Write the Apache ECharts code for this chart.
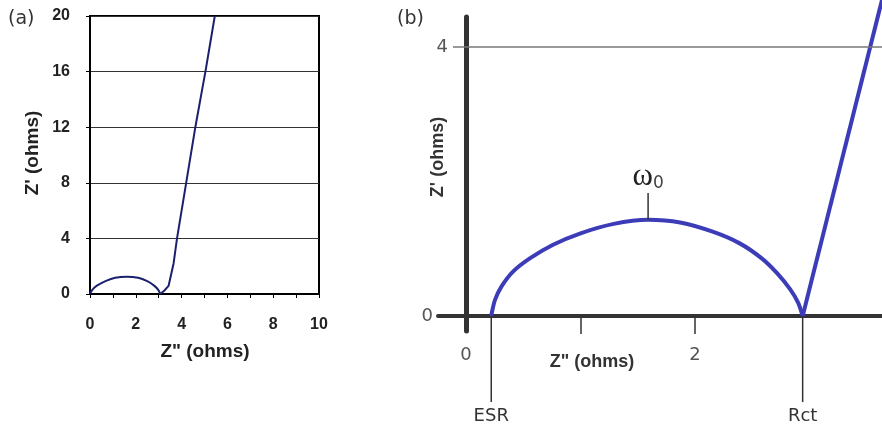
<!DOCTYPE html>
<html>
<head>
<meta charset="utf-8">
<script src="https://cdn.jsdelivr.net/npm/echarts@6/dist/echarts.min.js"></script>
<style>
html, body { margin: 0; padding: 0; background: #fff; }
#chart { width: 882px; height: 428px; }
</style>
</head>
<body>
<div id="chart"></div>
<script>
// panel (a) - full plot, semicircle then steep tail
const arcAX = [0, 0.1, 0.3, 0.7, 1.1, 1.6, 2.1, 2.5, 2.8, 2.98, 3.07];
const arcAY = [0, 0.3, 0.6, 0.95, 1.17, 1.25, 1.17, 0.92, 0.6, 0.3, 0];
const tailAX = [3.07, 3.25, 3.43, 3.65, 3.8, 4.2, 4.6, 4.82, 5.04, 5.45];
const tailAY = [0, 0.25, 0.58, 2.2, 4, 8, 12, 14, 16, 20];

// panel (b) - zoomed sketch
const arcBX = [0.22, 0.224, 0.253, 0.31, 0.41, 0.56, 0.76, 1.0, 1.29, 1.59, 1.87, 2.16, 2.39, 2.58, 2.72, 2.83, 2.9, 2.94];
const arcBY = [0, 0.04, 0.24, 0.44, 0.66, 0.86, 1.06, 1.23, 1.37, 1.43, 1.39, 1.25, 1.08, 0.86, 0.63, 0.4, 0.2, 0];
const tailBX = [2.94, 3.633];
const tailBY = [0, 4.7];
const esrX = 0.22;
const rctX = 2.94;
const omegaX = 1.59;
const omegaY = [1.43, 1.83];
const markerDrop = -1.28;
const xLabelsB = [0, 2];
const xTicksB = [1, 2];
const yLabelsB = [0, 4];

const zip = (xs, ys) => xs.map((x, i) => [x, ys[i]]);

const chart = echarts.init(document.getElementById('chart'), null, { renderer: 'canvas' });

const boldA = { fontFamily: 'Liberation Sans, Arial', fontWeight: 'bold', color: '#222' };
const plainB = { fontFamily: 'DejaVu Sans', fontSize: 18, color: '#555' };

let option = {
    animation: false,
    grid: [
        { left: 90, top: 16, width: 229, height: 278, show: true, borderColor: '#000', borderWidth: 2 },
        { left: 438, top: 17, right: 0, bottom: 97 }
    ],
    xAxis: [{
        gridIndex: 0,
        type: 'value',
        min: 0, max: 10, interval: 1,
        axisLine: { lineStyle: { color: '#000', width: 2 } },
        axisTick: { length: 4, lineStyle: { color: '#000' } },
        axisLabel: Object.assign({ fontSize: 16, margin: 23, formatter: v => v % 2 === 0 ? v : '' }, boldA),
        splitLine: { show: false }
    }, {
        gridIndex: 1,
        type: 'value',
        min: -0.245, max: 3.633,
        axisLine: { onZero: true, lineStyle: { color: '#333', width: 4 } },
        axisTick: { customValues: xTicksB, length: 18, lineStyle: { color: '#333', width: 1.5 } },
        axisLabel: Object.assign({ customValues: xLabelsB, margin: 15 }, plainB),
        splitLine: { show: false }
    }],
    yAxis: [{
        gridIndex: 0,
        type: 'value',
        min: 0, max: 20, interval: 4,
        axisLine: { show: true, lineStyle: { color: '#000', width: 2 } },
        axisTick: { show: true, length: 4, lineStyle: { color: '#000' } },
        axisLabel: Object.assign({ fontSize: 16, margin: 20 }, boldA),
        splitLine: { lineStyle: { color: '#333', width: 1 } }
    }, {
        gridIndex: 1,
        type: 'value',
        min: -0.223, max: 4.446,
        axisLine: { show: true, onZero: true, lineStyle: { color: '#333', width: 5 } },
        axisTick: { show: false },
        axisLabel: {
            customValues: yLabelsB,
            margin: -10,
            formatter: v => v === 0 ? '{z|0}' : '{n|' + v + '}',
            rich: {
                z: Object.assign({ padding: [0, 15, 0, 0] }, plainB),
                n: Object.assign({}, plainB)
            }
        },
        splitLine: { show: false }
    }],
    series: [{
        type: 'line', xAxisIndex: 0, yAxisIndex: 0,
        data: zip(arcAX, arcAY), smooth: 0.3, symbol: 'none',
        lineStyle: { color: '#1b206c', width: 2 }
    }, {
        type: 'line', xAxisIndex: 0, yAxisIndex: 0,
        data: zip(tailAX, tailAY), symbol: 'none',
        lineStyle: { color: '#1b206c', width: 2 }
    }, {
        type: 'line', xAxisIndex: 1, yAxisIndex: 1,
        data: zip(arcBX, arcBY), smooth: 0.3, symbol: 'none',
        lineStyle: { color: '#3c3cb8', width: 4 },
        markLine: {
            silent: true, symbol: 'none', label: { show: false },
            lineStyle: { color: '#777', width: 1.5, type: 'solid' },
            data: [[{ coord: [-0.114, 4] }, { coord: [3.633, 4] }]]
        },
        z: 3
    }, {
        type: 'line', xAxisIndex: 1, yAxisIndex: 1, clip: false,
        data: zip(tailBX, tailBY), symbol: 'none',
        lineStyle: { color: '#3c3cb8', width: 4 },
        z: 3
    }, {
        type: 'line', xAxisIndex: 1, yAxisIndex: 1, clip: false,
        data: [[omegaX, omegaY[0]], {
            value: [omegaX, omegaY[1]],
            label: {
                show: true, position: 'top', distance: 1,
                formatter: '{w|\u03c9}{s|0}',
                rich: {
                    w: { fontFamily: 'Liberation Serif', fontSize: 31, color: '#222' },
                    s: { fontFamily: 'DejaVu Sans', fontSize: 17, color: '#444', padding: [14, 0, 0, 0] }
                }
            }
        }],
        symbol: 'circle', symbolSize: 0.1,
        lineStyle: { color: '#333', width: 1.5 }
    }, {
        type: 'line', xAxisIndex: 1, yAxisIndex: 1, clip: false,
        data: [[esrX, 0], {
            value: [esrX, markerDrop],
            label: Object.assign({ show: true, position: 'bottom', distance: 5, formatter: 'ESR' }, plainB, { color: '#333' })
        }],
        symbol: 'circle', symbolSize: 0.1,
        lineStyle: { color: '#333', width: 1.5 }
    }, {
        type: 'line', xAxisIndex: 1, yAxisIndex: 1, clip: false,
        data: [[rctX, 0], {
            value: [rctX, markerDrop],
            label: Object.assign({ show: true, position: 'bottom', distance: 5, formatter: 'Rct' }, plainB, { color: '#333' })
        }],
        symbol: 'circle', symbolSize: 0.1,
        lineStyle: { color: '#333', width: 1.5 }
    }],
    graphic: [
        { type: 'text', left: 8, top: 10, style: { text: '(a)', font: '19px DejaVu Sans', fill: '#333' } },
        { type: 'text', left: 397, top: 10, style: { text: '(b)', font: '19px DejaVu Sans', fill: '#333' } },
        { type: 'text', x: 205, y: 352, style: { text: 'Z" (ohms)', font: 'bold 19px Liberation Sans', fill: '#222', align: 'center', verticalAlign: 'middle' } },
        { type: 'text', x: 33, y: 153, rotation: Math.PI / 2, style: { text: "Z' (ohms)", font: 'bold 19px Liberation Sans', fill: '#222', align: 'center', verticalAlign: 'middle' } },
        { type: 'text', x: 592, y: 362, style: { text: 'Z" (ohms)', font: 'bold 18px Liberation Sans', fill: '#333', align: 'center', verticalAlign: 'middle' } },
        { type: 'text', x: 438, y: 157, rotation: Math.PI / 2, style: { text: "Z' (ohms)", font: 'bold 18px Liberation Sans', fill: '#333', align: 'center', verticalAlign: 'middle' } }
    ]
};

chart.setOption(option);
</script>
</body>
</html>
